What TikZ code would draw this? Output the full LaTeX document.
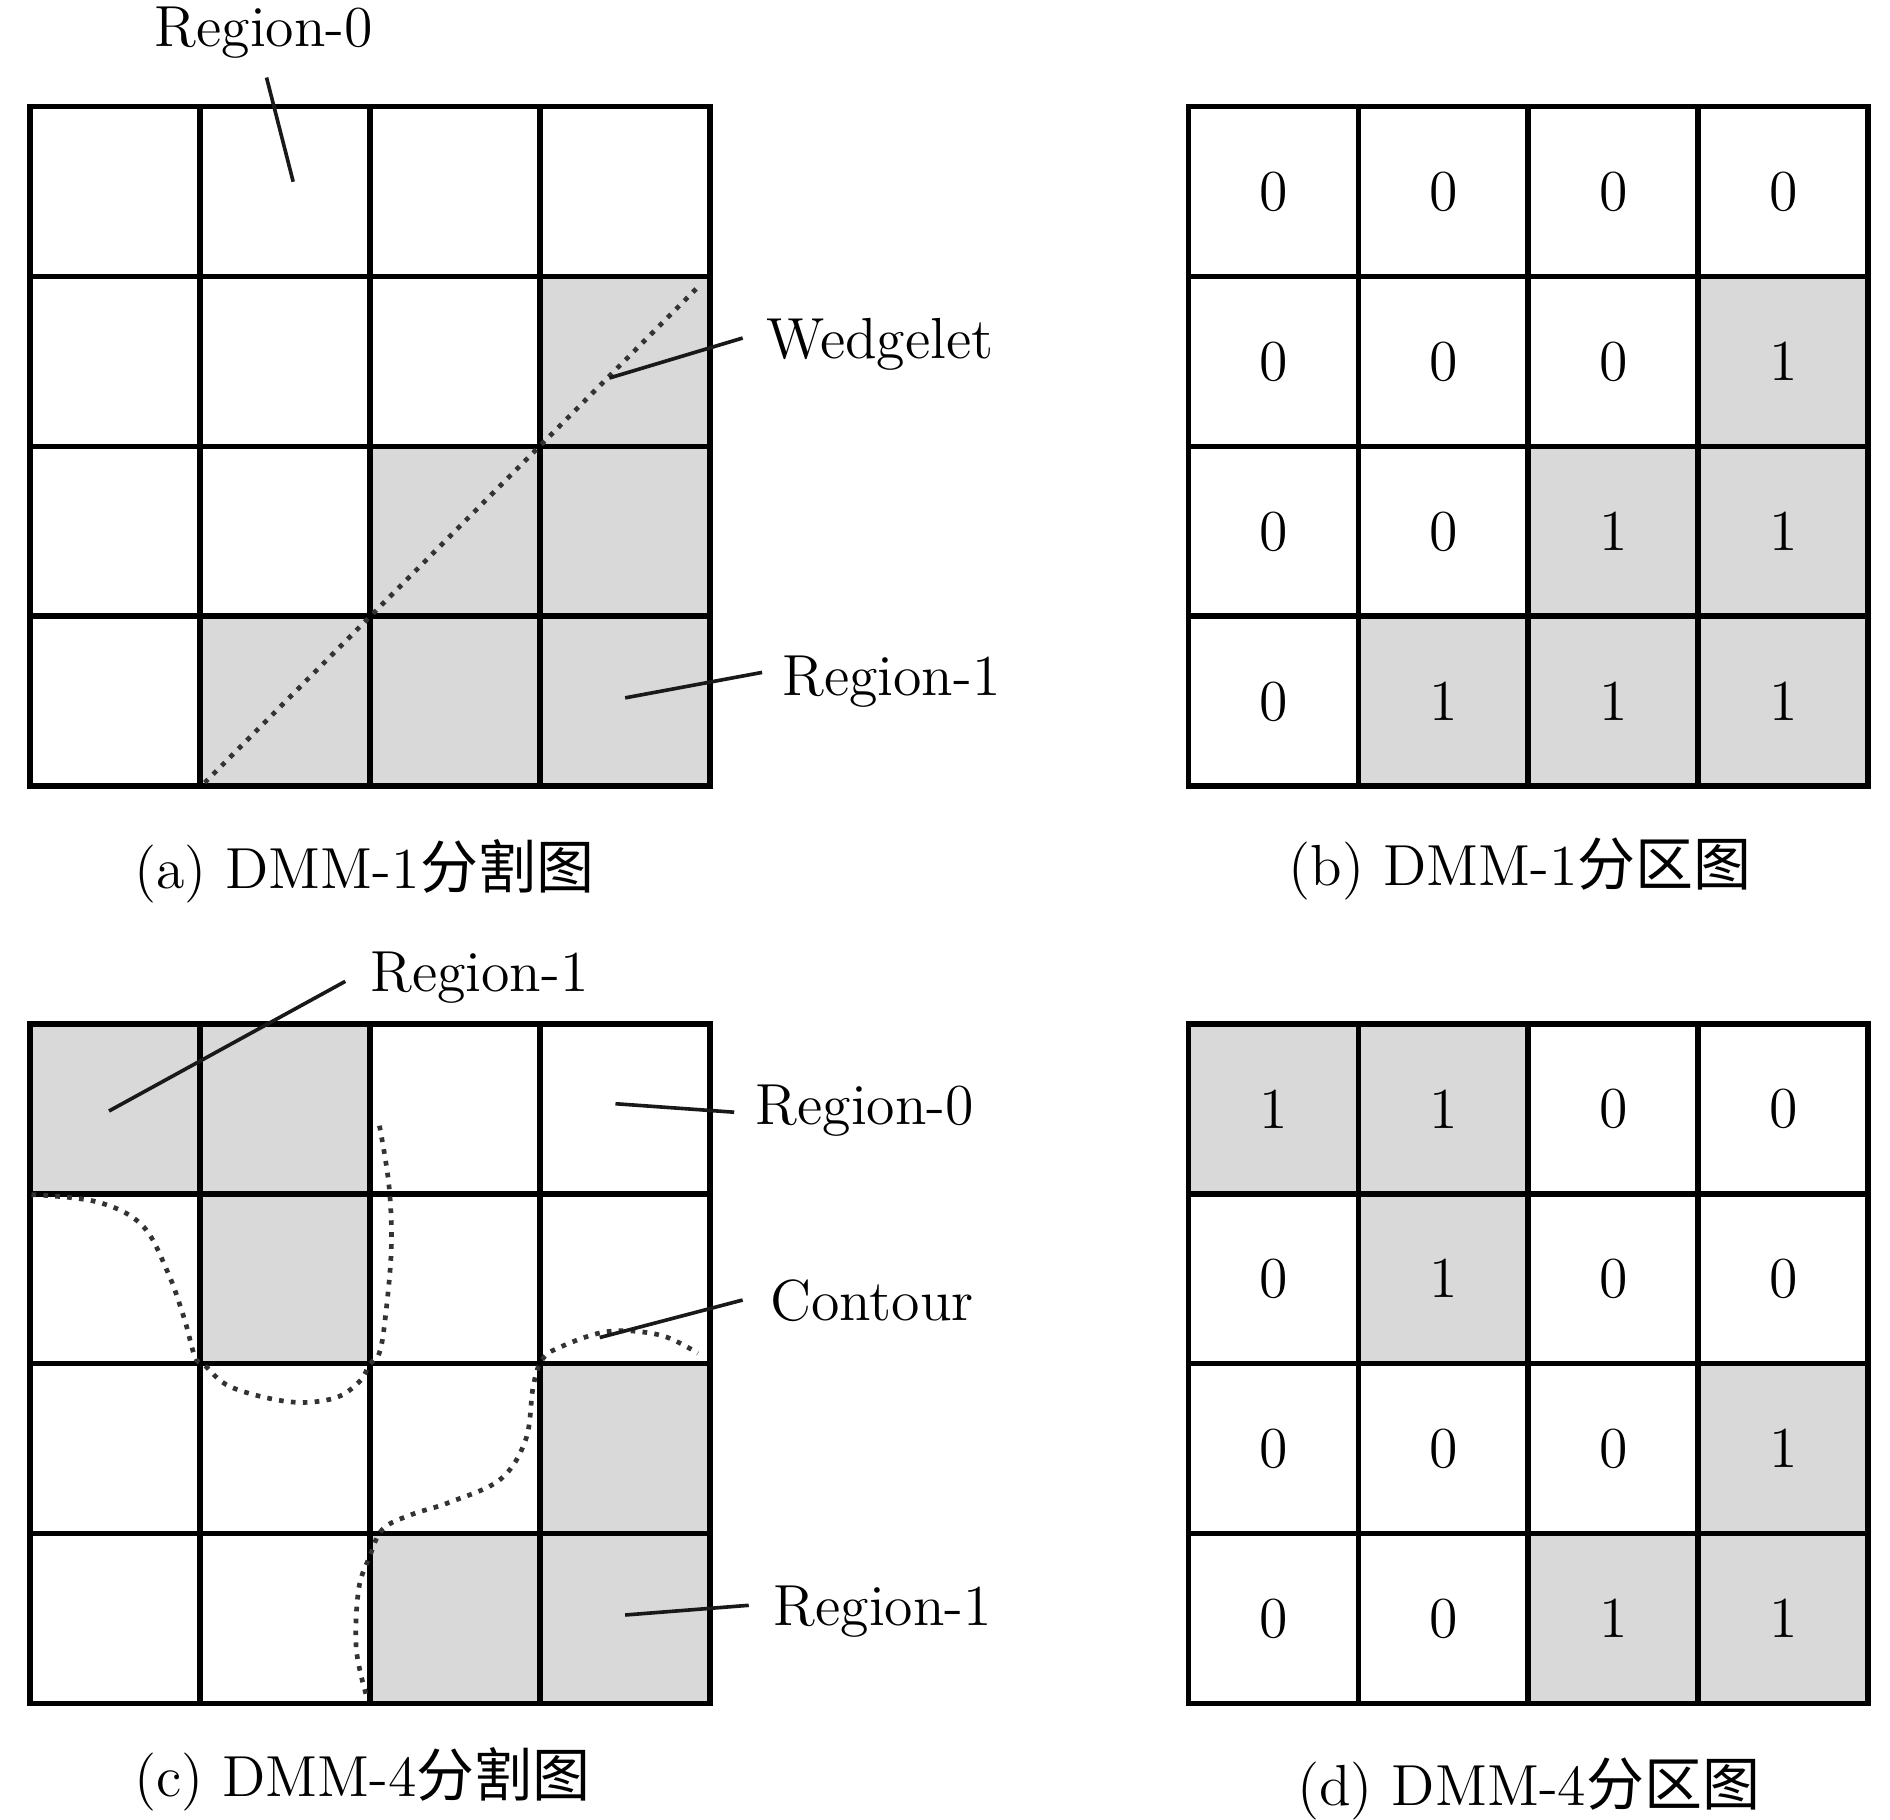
\documentclass[tikz,border=0pt]{standalone}
\usepackage{fontspec}
\newfontfamily\cjk{Noto Sans CJK SC}
\newcommand\figfs{\fontsize{13.6}{16}\selectfont}
\begin{document}
\begin{tikzpicture}[x=0.01cm,y=-0.01cm,
  cell/.style={draw=black, line width=1.35pt, minimum size=1.4025cm, inner sep=0pt, outer sep=0pt},
  lbl/.style={anchor=base west, inner sep=0pt, font=\figfs},
  leader/.style={draw=black!90, line width=0.85pt},
  contour/.style={draw=black!80, line width=1.1pt, dash pattern=on 1.1pt off 1.7pt}]
\useasboundingbox (0,0) rectangle (1560,1501.4);
% panels (a) and (b)
\foreach \r in {0,1,2,3}{\foreach \c in {0,1,2,3}{
  \pgfmathtruncatemacro\v{(\r+\c>=4)?1:0}
  \ifnum\v=1 \def\cellcol{black!15}\else\def\cellcol{white}\fi
  \node[cell,fill=\cellcol] (a\r\c) at ({95.125+140.25*\c},{158.125+140.25*\r}) {};
  \node[cell,fill=\cellcol,font=\figfs] (b\r\c) at ({1051.125+140.25*\c},{158.125+140.25*\r}) {\v};
}}
% panels (c) and (d)
\foreach \r/\vals in {0/{1,1,0,0},1/{0,1,0,0},2/{0,0,0,1},3/{0,0,1,1}}{
 \foreach \v [count=\c from 0] in \vals {
  \ifnum\v=1 \def\cellcol{black!15}\else\def\cellcol{white}\fi
  \node[cell,fill=\cellcol] (c\r\c) at ({95.125+140.25*\c},{915.125+140.25*\r}) {};
  \node[cell,fill=\cellcol,font=\figfs] (d\r\c) at ({1051.125+140.25*\c},{915.125+140.25*\r}) {\v};
}}
% wedgelet
\coordinate (w1) at (169,646);
\coordinate (w2) at (577,236);
\draw[contour] (w1) -- (w2);
% contours
\draw[contour] plot[smooth, tension=0.6] coordinates {(26,986) (80,992) (117,1011) (138,1049) (152,1088) (161,1120) (169,1127) (191,1145) (239,1157) (276,1154) (297,1140) (305,1126) (313,1117) (318,1088) (323,1030) (321,978) (313,928)};
\draw[contour] plot[smooth, tension=0.6] coordinates {(302,1398) (294,1360) (296,1312) (305,1285) (316,1262) (340,1250) (371,1240) (413,1221) (434,1188) (440,1145) (447,1123) (462,1112) (502,1099) (545,1102) (576,1117)};
% labels
\node[lbl] (tR0a) at (127,38) {Region-0};
\node[lbl] (tWed) at (632,296) {Wedgelet};
\node[lbl] (tR1a) at (645,574) {Region-1};
\node[lbl] (capa) at (110,733) {(a) DMM-1{\cjk 分割图}};
\node[lbl] (capb) at (1063,731) {(b) DMM-1{\cjk 分区图}};
\node[lbl] (tR1c) at (305,818) {Region-1};
\node[lbl] (tR0c) at (623,928) {Region-0};
\node[lbl] (tCon) at (635,1090) {Contour};
\node[lbl] (tR1d) at (638,1342) {Region-1};
\node[lbl] (capc) at (110,1483) {(c) DMM-4{\cjk 分割图}};
\node[lbl] (capd) at (1070,1490) {(d) DMM-4{\cjk 分区图}};
% leaders
\coordinate (l1a) at (220,64);  \coordinate (l1b) at (242,150);
\coordinate (l2a) at (613,279); \coordinate (l2b) at (503,312);
\coordinate (l3a) at (629,555); \coordinate (l3b) at (516,576);
\coordinate (l4a) at (285,810); \coordinate (l4b) at (90,917);
\coordinate (l5a) at (606,918); \coordinate (l5b) at (508,911);
\coordinate (l6a) at (613,1073); \coordinate (l6b) at (495,1104);
\coordinate (l7a) at (618,1325); \coordinate (l7b) at (516,1333);
\draw[leader] (l1a) -- (l1b);
\draw[leader] (l2a) -- (l2b);
\draw[leader] (l3a) -- (l3b);
\draw[leader] (l4a) -- (l4b);
\draw[leader] (l5a) -- (l5b);
\draw[leader] (l6a) -- (l6b);
\draw[leader] (l7a) -- (l7b);
\end{tikzpicture}
\end{document}
